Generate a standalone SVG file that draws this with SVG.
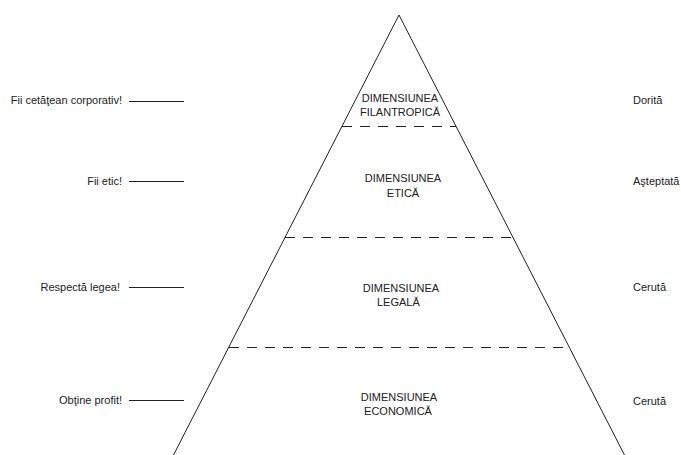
<svg xmlns="http://www.w3.org/2000/svg" width="681" height="455" viewBox="0 0 681 455">
<style>
text{font-family:"Liberation Sans",Arial,sans-serif;font-size:11px;fill:#222}
.l{text-anchor:end}
.c{text-anchor:middle}
.ln{stroke:#222;stroke-width:1;fill:none}
.d{stroke:#222;stroke-width:1;stroke-dasharray:10 8;fill:none}
</style>
<rect width="681" height="455" fill="#fff"/>
<g id="pyramid">
<polyline class="ln" points="173,456 399,15 625,456"/>
</g>
<g id="connectors">
<line class="d" x1="342" y1="126.5" x2="456" y2="126.5"/>
<line class="d" x1="285" y1="237.5" x2="513" y2="237.5"/>
<line class="d" x1="229" y1="347.5" x2="569" y2="347.5"/>
<line class="ln" x1="129" y1="101.5" x2="184" y2="101.5"/>
<line class="ln" x1="129" y1="181.5" x2="184" y2="181.5"/>
<line class="ln" x1="129" y1="287.5" x2="184" y2="287.5"/>
<line class="ln" x1="129" y1="400.5" x2="184" y2="400.5"/>
</g>
<g id="filantropica"><text class="c" x="400" y="102">DIMENSIUNEA</text><text class="c" x="400" y="116">FILANTROPICĂ</text></g>
<g id="etica"><text class="c" x="403" y="182">DIMENSIUNEA</text><text class="c" x="403" y="197">ETICĂ</text></g>
<g id="legala"><text class="c" x="401" y="292">DIMENSIUNEA</text><text x="377" y="306">LEGALĂ</text></g>
<g id="economica"><text class="c" x="399" y="401">DIMENSIUNEA</text><text class="c" x="398" y="415">ECONOMICĂ</text></g>
<g id="left-labels">
<text class="l" x="122" y="104">Fii cetăţean corporativ!</text>
<text class="l" x="122" y="185">Fii etic!</text>
<text class="l" x="120" y="291">Respectă legea!</text>
<text class="l" x="122" y="404">Obţine profit!</text>
</g>
<g id="right-labels">
<text x="633" y="104">Dorită</text>
<text x="633" y="185">Aşteptată</text>
<text x="633" y="291">Cerută</text>
<text x="633" y="405">Cerută</text>
</g>
</svg>
